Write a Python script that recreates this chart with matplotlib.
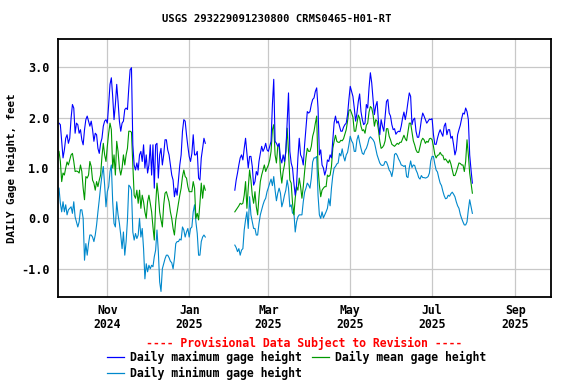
import matplotlib
matplotlib.use("Agg")
import matplotlib.pyplot as plt
from matplotlib.lines import Line2D
import pandas as pd

# daily values, two runs of record with a gap in Jan/Feb
seg1_start = "2024-09-26"
seg2_start = "2025-02-04"

max_seg1 = [
    1.89, 1.86, 1.53, 1.20, 1.36, 1.59, 1.66, 1.49, 1.59, 1.99,
    2.26, 2.19, 1.69, 1.89, 1.86, 1.69, 1.76, 1.56, 1.46, 1.76,
    1.96, 2.03, 1.93, 1.83, 1.93, 1.76, 1.53, 1.69, 1.66, 1.39,
    1.29, 1.49, 1.59, 1.83, 1.93, 1.96, 1.89, 2.26, 2.66, 2.79,
    2.42, 1.96, 2.26, 2.66, 2.32, 1.93, 1.73, 1.89, 1.93, 2.16,
    2.19, 2.16, 2.59, 2.95, 2.99, 1.46, 1.06, 0.96, 1.10, 0.96,
    1.26, 1.33, 1.13, 1.46, 1.00, 1.26, 0.90, 1.06, 1.46, 0.86,
    1.46, 0.60, 1.46, 1.49, 0.80, 1.26, 1.39, 1.06, 1.26, 1.56,
    1.56, 1.36, 1.26, 1.06, 0.86, 0.76, 0.43, 0.60, 0.46, 0.76,
    1.06, 1.26, 1.73, 1.96, 1.93, 1.66, 1.43, 1.23, 1.13, 1.29,
    1.66, 1.26, 1.26, 1.33, 0.80, 0.76, 1.20, 1.39, 1.59, 1.49,
]
mean_seg1 = [
    1.33, 1.13, 0.73, 0.90, 0.86, 1.00, 1.12, 1.06, 1.16, 1.26,
    1.29, 1.13, 0.93, 0.94, 0.93, 0.90, 1.06, 0.93, 0.60, 0.37,
    0.83, 0.80, 0.86, 1.13, 1.03, 0.76, 0.70, 0.56, 0.73, 0.63,
    0.76, 0.86, 1.23, 1.49, 1.26, 1.13, 1.43, 1.69, 1.89, 1.76,
    1.00, 1.26, 0.86, 1.53, 1.33, 1.00, 0.86, 1.00, 1.26, 1.06,
    1.26, 1.39, 1.73, 1.73, 1.71, 1.06, 0.46, 0.40, 0.56, 0.30,
    0.56, 0.20, 0.46, 0.33, 0.13, 0.00, 0.33, 0.46, 0.30, 0.13,
    -0.17, -0.43, 0.27, 0.70, 0.46, 0.13, -0.03, -0.17, 0.27, 0.50,
    0.53, 0.43, 0.33, 0.13, 0.00, -0.20, -0.33, -0.03, 0.13, 0.30,
    0.46, 0.60, 0.83, 0.96, 0.83, 0.80, 0.63, 0.53, 0.53, 0.53,
    0.73, 0.60, 0.00, 0.10, -0.03, 0.30, 0.70, 0.40, 0.66, 0.56,
]
min_seg1 = [
    0.60, 0.30, 0.13, 0.33, 0.13, 0.27, 0.07, 0.17, 0.20, 0.23,
    0.10, 0.33, 0.03, -0.07, -0.17, -0.07, 0.17, 0.17, 0.00, -0.83,
    -0.50, -0.73, -0.50, -0.33, -0.33, -0.37, -0.46, -0.33, -0.13, 0.13,
    0.37, 0.63, 0.86, 1.03, 0.66, 0.23, 0.53, 0.63, 0.93, 1.06,
    0.33, -0.10, -0.17, 0.33, 0.07, -0.10, -0.33, -0.60, -0.27, -0.73,
    -0.46, -0.03, 0.66, 0.63, 0.56, -0.27, -0.43, -0.30, -0.40, -0.33,
    0.00, -0.37, -0.20, -0.60, -1.20, -0.90, -1.06, -0.93, -1.00, -0.93,
    -0.96, -0.76, -0.63, -0.23, -0.66, -1.26, -1.45, -1.00, -0.90, -0.80,
    -0.73, -0.73, -0.78, -0.85, -0.88, -1.00, -0.80, -0.50, -0.46, -0.46,
    -0.41, -0.43, -0.17, -0.23, -0.37, -0.27, -0.20, -0.37, -0.20, -0.17,
    0.13, 0.27, -0.07, -0.30, -0.73, -0.73, -0.46, -0.37, -0.33, -0.37,
]

max_seg2 = [
    0.56, 0.76, 0.90, 1.06, 1.20, 1.26, 1.16, 1.39, 1.59,
    1.29, 1.00, 1.23, 1.23, 1.03, 0.66, 0.73, 0.93, 0.86, 1.13,
    1.29, 1.43, 1.33, 1.39, 1.49, 1.36, 1.33, 1.43, 1.53, 2.26,
    2.76, 1.53, 1.49, 1.43, 1.49, 1.20, 1.10, 1.26, 1.13, 1.33,
    1.93, 2.49, 1.33, 1.10, 1.00, 0.70, 0.46, 0.66, 1.20, 1.59,
    1.26, 1.20, 1.06, 1.46, 1.79, 2.12, 2.09, 2.12, 2.26, 2.36,
    2.39, 2.52, 2.59, 2.19, 1.26, 1.36, 1.06, 1.00, 0.86, 0.96,
    1.16, 1.13, 1.26, 1.20, 1.55, 1.90, 2.03, 1.89, 1.93, 1.83,
    1.73, 1.73, 1.81, 1.86, 1.89, 2.06, 2.36, 2.62, 2.52, 2.42,
    2.19, 1.93, 2.09, 2.32, 2.47, 2.12, 1.96, 1.86, 1.89, 2.26,
    2.19, 2.59, 2.89, 2.69, 2.36, 2.06, 2.23, 2.32, 1.93, 1.66,
    1.96, 1.83, 1.73, 2.03, 2.32, 2.36, 2.09, 2.03, 1.86, 1.76,
    1.78, 1.67, 1.71, 1.73, 1.72, 1.83, 1.99, 2.11, 1.96, 2.11,
    2.31, 2.49, 2.42, 1.86, 1.96, 1.99, 1.73, 1.61, 1.61, 1.76,
    1.96, 2.09, 2.03, 1.96, 1.89, 1.93, 1.97, 1.96, 1.98, 1.66,
    1.47, 1.47, 1.59, 1.69, 1.76, 1.69, 1.63, 1.83, 1.89, 1.66,
    1.76, 1.76, 1.59, 1.63, 1.46, 1.26, 1.36, 1.66, 1.76, 1.85,
    1.98, 2.09, 2.07, 2.19, 2.12, 1.96, 1.26, 0.96, 0.70,
]
mean_seg2 = [
    0.13, 0.17, 0.21, 0.25, 0.30, 0.28, 0.30, 0.46, 0.73,
    0.20, 0.60, 0.96, 0.76, 0.46, 0.30, 0.53, 0.23, 0.07, 0.43,
    0.73, 0.86, 0.96, 1.06, 0.93, 1.00, 1.06, 1.16, 1.33, 1.76,
    1.86, 1.26, 1.10, 1.43, 1.46, 0.93, 0.70, 0.93, 1.06, 1.33,
    1.79, 1.33, 0.76, 0.70, 0.30, 0.07, 0.40, 0.63, 0.56, 0.80,
    0.63, 0.40, 0.63, 0.93, 1.20, 1.39, 1.33, 1.33, 1.43, 1.63,
    1.73, 1.89, 2.03, 1.00, 0.66, 0.43, 0.56, 0.60, 0.63, 0.63,
    0.86, 0.83, 0.86, 1.03, 1.39, 1.53, 1.65, 1.53, 1.51, 1.51,
    1.55, 1.54, 1.58, 1.67, 1.76, 1.93, 2.14, 2.16, 2.09, 2.01,
    1.73, 1.73, 1.89, 2.05, 1.99, 1.83, 1.74, 1.76, 1.69, 1.85,
    1.89, 2.11, 2.22, 2.19, 2.06, 1.83, 1.96, 1.93, 1.76, 1.53,
    1.39, 1.41, 1.45, 1.54, 1.78, 1.78, 1.63, 1.56, 1.47, 1.45,
    1.43, 1.46, 1.49, 1.47, 1.51, 1.51, 1.58, 1.65, 1.58, 1.54,
    1.71, 1.89, 1.89, 1.71, 1.54, 1.46, 1.36, 1.31, 1.31, 1.43,
    1.54, 1.59, 1.56, 1.49, 1.53, 1.51, 1.58, 1.59, 1.56, 1.43,
    1.27, 1.20, 1.25, 1.26, 1.31, 1.26, 1.25, 1.16, 1.18, 1.14,
    1.10, 1.16, 1.08, 0.96, 0.85, 0.85, 0.92, 1.01, 1.10, 1.09,
    1.06, 1.06, 0.93, 1.13, 1.56, 1.26, 0.90, 0.70, 0.50,
]
min_seg2 = [
    -0.53, -0.58, -0.66, -0.60, -0.73, -0.63, -0.60, -0.23, -0.03,
    0.13, -0.20, 0.43, 0.07, -0.07, -0.20, -0.20, -0.33, -0.33, -0.10,
    0.07, 0.17, 0.27, 0.35, 0.40, 0.53, 0.61, 0.70, 0.78, 0.65,
    0.83, 0.56, 0.35, 0.50, 0.60, 0.50, 0.23, 0.33, 0.46, 0.56,
    0.76, 0.60, 0.23, 0.27, 0.10, 0.13, -0.27, -0.07, 0.03, 0.07,
    0.07, 0.07, 0.33, 0.52, 0.60, 0.70, 0.66, 0.60, 0.80, 1.12,
    1.20, 1.20, 1.23, 0.46, 0.07, 0.00, 0.13, 0.01, 0.07, 0.13,
    0.20, 0.39, 0.25, 0.60, 0.85, 1.00, 1.03, 1.08, 1.10, 1.29,
    1.24, 1.38, 1.23, 1.14, 1.26, 1.31, 1.46, 1.63, 1.54, 1.49,
    1.33, 1.33, 1.56, 1.65, 1.51, 1.39, 1.29, 1.27, 1.35, 1.39,
    1.47, 1.58, 1.62, 1.59, 1.56, 1.51, 1.39, 1.26, 1.18, 1.10,
    1.06, 1.05, 1.06, 1.13, 1.12, 1.05, 0.96, 0.92, 0.83, 0.98,
    1.27, 1.29, 1.25, 1.18, 1.13, 1.06, 1.05, 1.03, 1.05, 0.83,
    0.81, 1.01, 1.14, 1.01, 1.06, 1.05, 0.96, 0.90, 0.81, 0.78,
    0.85, 0.81, 0.81, 0.80, 0.81, 0.83, 0.90, 1.14, 1.23, 1.23,
    1.08, 0.96, 0.92, 0.80, 0.70, 0.65, 0.54, 0.45, 0.39, 0.40,
    0.46, 0.44, 0.49, 0.52, 0.48, 0.43, 0.33, 0.25, 0.20, 0.08,
    0.00, -0.07, -0.13, -0.13, -0.07, 0.17, 0.37, 0.23, 0.10,
]

tick_dates = ["2024-11-01", "2025-01-01", "2025-03-01", "2025-05-01", "2025-07-01", "2025-09-01"]
tick_labels = ["Nov\n2024", "Jan\n2025", "Mar\n2025", "May\n2025", "Jul\n2025", "Sep\n2025"]
y_ticks = [-1.0, 0.0, 1.0, 2.0, 3.0]

title = "USGS 293229091230800 CRMS0465-H01-RT"
ylabel = "DAILY Gage height, feet"
notice = "---- Provisional Data Subject to Revision ----"
labels = ["Daily maximum gage height", "Daily mean gage height", "Daily minimum gage height"]
C_MAX, C_MEAN, C_MIN = "#0000ff", "#009900", "#0088cc"

plt.rcParams["font.family"] = "DejaVu Sans Mono"
plt.rcParams["font.weight"] = "bold"

d1 = pd.date_range(seg1_start, periods=len(max_seg1), freq="D")
d2 = pd.date_range(seg2_start, periods=len(max_seg2), freq="D")

fig = plt.figure(figsize=(5.76, 3.84), dpi=100)
ax = fig.add_axes([58/576, 1-297/384, 493/576, 258/384])

for d, mn, me, mx in [(d1, min_seg1, mean_seg1, max_seg1), (d2, min_seg2, mean_seg2, max_seg2)]:
    ax.plot(d, mn, color=C_MIN, lw=0.8)
    ax.plot(d, me, color=C_MEAN, lw=0.8)
    ax.plot(d, mx, color=C_MAX, lw=0.8)

ax.set_xlim(pd.Timestamp("2024-09-25 06:00"), pd.Timestamp("2025-09-27 14:00"))
ax.set_ylim(-1.56, 3.56)
ax.set_xticks(pd.to_datetime(tick_dates))
ax.set_xticklabels(tick_labels, fontsize=8.3, fontweight="bold", linespacing=1.1)
ax.set_yticks(y_ticks)
ax.set_yticklabels([f"{v:.1f}" for v in y_ticks], fontsize=8.5, fontweight="bold")
ax.tick_params(length=0)
ax.tick_params(axis="x", pad=5)
ax.tick_params(axis="y", pad=6)
ax.grid(color="#c8c8c8", lw=0.9)
ax.set_axisbelow(True)
for s in ax.spines.values():
    s.set_linewidth(1.3)

fig.text(277/576, 1-19/384, title, ha="center", va="center", fontsize=7.6, fontweight="bold")
fig.text(12/576, 1-168/384, ylabel, rotation=90, ha="center", va="center", fontsize=7.8, fontweight="bold")
fig.text(304/576, 1-343/384, notice, ha="center", va="center", fontsize=8.3, fontweight="bold", color="red")

# legend, laid out like the USGS page
leg = [(107, 357, C_MAX, labels[0]), (312, 357, C_MEAN, labels[1]), (107, 373, C_MIN, labels[2])]
for x, y, c, lab in leg:
    fig.add_artist(Line2D([x/576, (x+17)/576], [1-y/384, 1-y/384], color=c, lw=0.9, transform=fig.transFigure))
    fig.text((x+23)/576, 1-y/384, lab, ha="left", va="center", fontsize=8.3, fontweight="bold")

fig.savefig("out.png", dpi=100)
